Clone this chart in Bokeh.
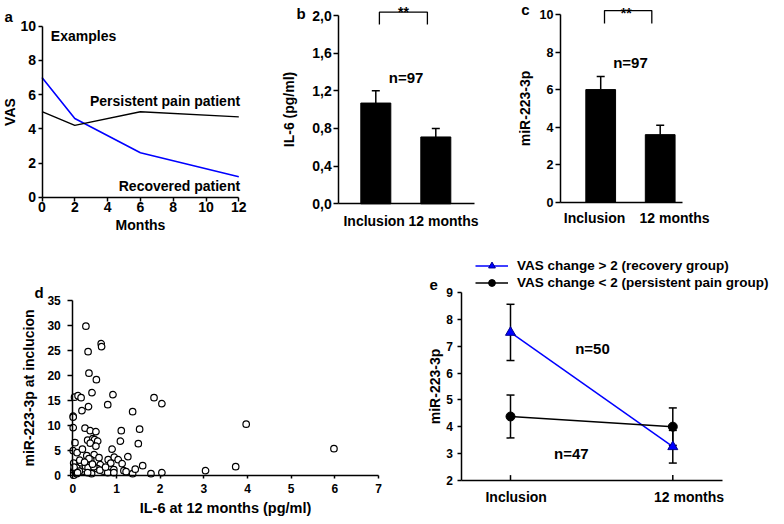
from bokeh.plotting import figure
from bokeh.models import (Range1d, FixedTicker, CustomJSTickFormatter, Label,
                          Whisker, ColumnDataSource, TeeHead, Legend, LegendItem)
from bokeh.layouts import row, column
from bokeh.embed import file_html
from bokeh.resources import INLINE

FONT = "Liberation Sans"
BLUE = "#0000ff"

# ---------------- data ----------------
# Panel a: example VAS trajectories
months = [0, 2, 6, 12]
vas_recovered = [7.0, 4.6, 2.6, 1.2]
vas_persistent = [5.0, 4.2, 5.0, 4.7]

# Panels b / c: group means with SEM
groups = ["Inclusion", "12 months"]
il6_mean = [1.07, 0.71]
il6_err = [0.13, 0.09]
mir_mean = [6.0, 3.6]
mir_err = [0.7, 0.5]

# Panel d: scatter
il6_12m = [0.30, 0.65, 0.66, 0.35, 0.37, 0.54, 0.44, 0.92, 0.04, 0.12,
           0.19, 0.80, 0.21, 0.36, 1.37, 1.86, 2.04, 0.01, 0.01, 0.01,
           0.28, 0.40, 0.53, 1.11, 1.53, 3.97, 5.98, 0.05, 0.34, 0.46,
           0.50, 0.57, 0.40, 0.53, 1.09, 1.50, 0.01, 0.10, 0.22, 0.90,
           0.32, 0.49, 0.60, 0.41, 0.37, 0.81, 0.95, 1.04, 1.26, 0.87,
           1.13, 1.60, 3.73, 3.04, 2.04, 1.79, 1.37, 1.43, 1.17, 1.22,
           0.63, 0.56, 0.70, 0.80, 0.94, 0.94, 0.43, 0.29, 0.21, 0.24,
           0.15, 0.29, 0.06, 0.02, 0.09, 0.02, 0.02, 0.02, 0.15, 0.09,
           0.19, 0.35, 0.48, 0.16, 0.62, 0.75, 0.03, 0.27, 0.45, 0.11,
           0.34]
mir_incl = [29.8, 26.3, 25.7, 24.7, 20.4, 19.1, 16.5, 16.1, 15.6, 15.9,
            15.5, 14.1, 12.9, 13.7, 12.7, 15.5, 14.3, 11.8, 11.6, 9.5,
            9.4, 8.9, 8.7, 8.9, 9.2, 10.2, 5.3, 6.5, 7.0, 7.3,
            7.1, 6.8, 6.4, 5.8, 6.8, 6.3, 4.9, 4.5, 5.2, 5.2,
            3.9, 4.1, 3.5, 3.1, 3.3, 3.1, 3.6, 3.1, 3.7, 2.4,
            2.3, 1.9, 1.7, 0.9, 0.5, 0.3, 0.3, 1.2, 0.9, 0.7,
            2.1, 1.3, 0.8, 0.5, 1.1, 0.5, 0.3, 0.8, 0.7, 1.3,
            1.8, 1.8, 2.0, 2.4, 1.5, 0.9, 0.4, 0.0, 0.8, 0.3,
            2.5, 1.5, 1.7, 3.0, 1.0, 1.6, 1.6, 2.6, 2.2, 0.5,
            0.5]

# Panel e: miR-223-3p by group
recovery_mean = [7.52, 3.25]
recovery_lo = [6.47, 2.64]
recovery_hi = [8.57, 3.86]
persistent_mean = [4.38, 4.00]
persistent_lo = [3.58, 3.30]
persistent_hi = [5.18, 4.70]


# ---------------- helpers ----------------
def lin(f0, f1, v0, p0, v1, p1):
    """Range whose frame pixels f0..f1 map value v0 -> pixel p0 and v1 -> p1."""
    s = (p1 - p0) / (v1 - v0)
    return Range1d(v0 + (f0 - p0) / s, v0 + (f1 - p0) / s)


def fig(x0, y0, w, h, xmap, ymap):
    """Figure whose frame fills its canvas, placed at page pixel (x0, y0)."""
    p = figure(width=w, height=h,
               x_range=lin(x0, x0 + w, *xmap), y_range=lin(y0 + h, y0, *ymap),
               output_backend="svg", toolbar_location=None, min_border=0,
               background_fill_color="white", border_fill_color="white",
               frame_align=False)
    return p


def style(p, tick_size="14px"):
    for ax in (p.xaxis, p.yaxis):
        ax.axis_line_width = 1.5
        ax.axis_line_color = "black"
        ax.major_tick_line_width = 1.5
        ax.major_tick_line_color = "black"
        ax.major_tick_in = 0
        ax.major_tick_out = 4
        ax.minor_tick_line_color = None
        ax.major_label_text_font = FONT
        ax.major_label_text_font_style = "bold"
        ax.major_label_text_font_size = tick_size
        ax.major_label_text_color = "black"
        ax.axis_label_text_font = FONT
        ax.axis_label_text_font_style = "bold"
        ax.axis_label_text_font_size = "14px"
        ax.axis_label_text_color = "black"
    p.xgrid.visible = False
    p.ygrid.visible = False
    p.outline_line_color = None


def txt(p, x, y, text, size="15px", align="center", baseline="middle", units="data"):
    p.add_layout(Label(x=x, y=y, x_units=units, y_units=units, text=text,
                       text_font=FONT, text_font_style="bold", text_font_size=size,
                       text_align=align, text_baseline=baseline, text_color="black"))


def letter(p, x, y, text):
    txt(p, x, y, text, size="15px", align="left", baseline="alphabetic", units="screen")


# ---------------- panel a ----------------
pa = fig(1, 1, 250, 247, (0, 42.5, 12, 239.3), (0, 197.7, 10, 26.7))
style(pa)
pa.line(months, vas_recovered, line_color=BLUE, line_width=1.6)
pa.line(months, vas_persistent, line_color="black", line_width=1.4)
pa.xaxis.fixed_location = 0
pa.yaxis.fixed_location = 0
pa.xaxis.ticker = FixedTicker(ticks=list(range(0, 13, 2)))
pa.yaxis.ticker = FixedTicker(ticks=list(range(0, 11, 2)))
pa.xaxis.bounds = (0, 12)
pa.yaxis.bounds = (0, 10)
pa.xaxis.major_label_standoff = 1
pa.yaxis.major_label_standoff = 2
pa.xaxis.axis_label_standoff = 1
pa.yaxis.axis_label_standoff = 0
pa.xaxis.axis_label = "Months"
pa.yaxis.axis_label = "VAS"
txt(pa, 0.54, 9.41, "Examples", size="14px", align="left")
txt(pa, 12.08, 5.61, "Persistent pain patient", size="14px", align="right")
txt(pa, 12.08, 0.64, "Recovered patient", size="14px", align="right")
letter(pa, 4, 231, "a")

# ---------------- panels b, c ----------------
xs = [i + 1 for i in range(len(groups))]


def bar_panel(p, axis_x, x_end, means, errs, tick_size, yticks, fmt_code, ylabel,
              label_pos, bracket, star_xy, n_xy, ystand, xstand):
    style(p, tick_size)
    p.vbar(x=xs, top=means, width=0.5, fill_color="black", line_color="black")
    src = ColumnDataSource(dict(x=xs, lower=means,
                                upper=[m + e for m, e in zip(means, errs)]))
    p.add_layout(Whisker(base="x", upper="upper", lower="lower", source=src,
                         dimension="height", line_width=1.5, line_color="black",
                         upper_head=TeeHead(size=8, line_width=1.5, line_color="black"),
                         lower_head=None))
    bx0, bx1, by0, by1 = bracket
    p.line([bx0, bx0, bx1, bx1], [by0, by1, by1, by0], line_color="black", line_width=1.3)
    txt(p, star_xy[0], star_xy[1], "**", size="14px", baseline="alphabetic")
    txt(p, n_xy[0], n_xy[1], "n=97")
    p.yaxis.fixed_location = axis_x
    p.xaxis.fixed_location = 0
    p.yaxis.ticker = FixedTicker(ticks=yticks)
    p.yaxis.formatter = CustomJSTickFormatter(code=fmt_code)
    p.yaxis.bounds = (0, yticks[-1])
    p.yaxis.axis_label = ylabel
    p.yaxis.major_tick_out = 5
    p.yaxis.major_label_standoff = 2
    p.yaxis.axis_label_standoff = ystand
    p.xaxis.bounds = (axis_x, x_end)
    p.xaxis.ticker = FixedTicker(ticks=label_pos)
    p.xaxis.formatter = CustomJSTickFormatter(args=dict(labels=groups),
                                              code="return labels[index] || '';")
    p.xaxis.major_tick_line_color = None
    p.xaxis.major_tick_out = 0
    p.xaxis.major_label_standoff = xstand
    p.xaxis.major_label_text_font_size = "14px"
    return p


pb = fig(251, 1, 268, 247, (1, 376.3, 2, 436.3), (0, 204.3, 2, 16))
bar_panel(pb, 0.383, 2.645, il6_mean, il6_err, "14px", [0, 0.4, 0.8, 1.2, 1.6, 2.0],
          "return tick.toFixed(1).replace('.', ',');", "IL-6 (pg/ml)",
          [0.973, 2.128], (1.06, 1.86, 1.905, 2.035), (1.46, 2.035), (1.506, 1.34), 12, 9)
letter(pb, 46, 234, "b")

pc = fig(519, 1, 258, 247, (1, 601.2, 2, 660.7), (0, 202.7, 10, 15))
bar_panel(pc, 0.324, 2.375, mir_mean, mir_err, "12.5px", [0, 2, 4, 6, 8, 10],
          "return tick.toFixed(0);", "miR-223-3p",
          [0.896, 2.24], (1.064, 1.859, 9.52, 10.21), (1.43, 10.1), (1.5, 7.43), 4, 8)
letter(pc, 2.7, 238, "c")

# ---------------- panel d ----------------
pd_ = fig(1, 248, 423, 269, (0, 73.3, 7, 379), (0, 475.7, 35, 300.7))
style(pd_, "12px")
pd_.scatter(il6_12m, mir_incl, marker="circle", size=6.5, fill_color="white",
            line_color="black", line_width=1.2)
pd_.xaxis.fixed_location = 0
pd_.yaxis.fixed_location = 0
pd_.xaxis.bounds = (0, 7)
pd_.yaxis.bounds = (0, 35)
pd_.xaxis.ticker = FixedTicker(ticks=list(range(0, 8)))
pd_.yaxis.ticker = FixedTicker(ticks=list(range(0, 36, 5)))
pd_.xaxis.major_tick_out = 3
pd_.xaxis.major_label_standoff = 6
pd_.xaxis.axis_label_standoff = 3
pd_.yaxis.major_tick_out = 5
pd_.yaxis.major_label_standoff = 7
pd_.yaxis.axis_label_standoff = 7
pd_.xaxis.axis_label = "IL-6 at 12 months (pg/ml)"
pd_.yaxis.axis_label = "miR-223-3p at inclucion"
pd_.xaxis.axis_label_text_font_size = "14.5px"
letter(pd_, 34, 224, "d")

# ---------------- panel e ----------------
pe = fig(424, 248, 353, 269, (0, 511, 1, 673.3), (2, 480.7, 9, 293.3))
style(pe, "12px")
ex = [i for i in range(len(groups))]
pe.segment(x0=ex, y0=[2, 2], x1=ex, y1=[2.19, 2.19], line_color="black", line_width=1.5)
for lo, hi in ((recovery_lo, recovery_hi), (persistent_lo, persistent_hi)):
    s = ColumnDataSource(dict(x=ex, lo=lo, hi=hi))
    pe.add_layout(Whisker(base="x", upper="hi", lower="lo", source=s, dimension="height",
                          line_color="black", line_width=1.5,
                          upper_head=TeeHead(size=8, line_width=1.5, line_color="black"),
                          lower_head=TeeHead(size=8, line_width=1.5, line_color="black")))
l1 = pe.line(ex, recovery_mean, line_color=BLUE, line_width=1.5)
m1 = pe.scatter(ex, recovery_mean, marker="triangle", size=10, fill_color=BLUE,
                line_color="#00008b", line_width=1)
l2 = pe.line(ex, persistent_mean, line_color="black", line_width=1.5)
m2 = pe.scatter(ex, persistent_mean, marker="circle", size=9, fill_color="black",
                line_color="black")
pe.yaxis.fixed_location = -0.3
pe.xaxis.fixed_location = 2
pe.yaxis.ticker = FixedTicker(ticks=list(range(2, 10)))
pe.yaxis.bounds = (2, 9)
pe.yaxis.major_label_standoff = 5
pe.yaxis.axis_label_standoff = 0
pe.yaxis.axis_label = "miR-223-3p"
pe.xaxis.bounds = (-0.3, 1.304)
pe.xaxis.ticker = FixedTicker(ticks=[0.035, 1.1])
pe.xaxis.formatter = CustomJSTickFormatter(args=dict(labels=groups),
                                           code="return labels[index] || '';")
pe.xaxis.major_tick_line_color = None
pe.xaxis.major_tick_out = 0
pe.xaxis.major_label_standoff = 9
pe.xaxis.major_label_text_font_size = "14px"
legend = Legend(items=[LegendItem(label="VAS change > 2 (recovery group)", renderers=[l1, m1]),
                       LegendItem(label="VAS change < 2 (persistent pain group)", renderers=[l2, m2])],
                location=(52, 225.5), orientation="vertical", glyph_width=33, glyph_height=17,
                label_height=17, label_standoff=9, spacing=0, padding=0, margin=0,
                border_line_color=None, background_fill_alpha=0,
                label_text_font=FONT, label_text_font_style="bold",
                label_text_font_size="13.5px", label_text_color="black")
pe.add_layout(legend)
txt(pe, 0.505, 6.92, "n=50")
txt(pe, 0.375, 3.0, "n=47")
letter(pe, 6, 232, "e")

layout = column(row(pa, pb, pc), row(pd_, pe))
open("out.html", "w").write(file_html(layout, INLINE))
